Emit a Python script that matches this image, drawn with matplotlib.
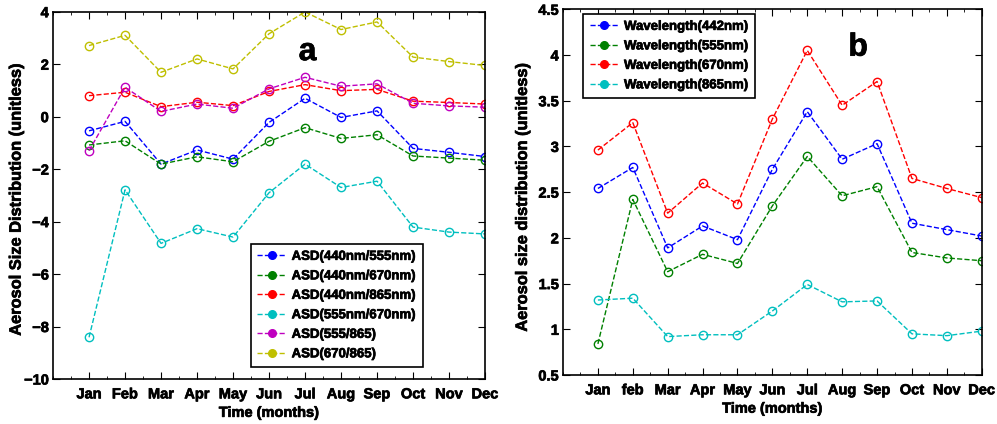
import matplotlib
matplotlib.use("Agg")
import matplotlib.pyplot as plt
import matplotlib.patheffects as pe
from matplotlib.lines import Line2D
from matplotlib.ticker import MultipleLocator

plt.rcParams["font.family"] = ["Liberation Sans", "DejaVu Sans"]
plt.rcParams["font.weight"] = "bold"

months = [1, 2, 3, 4, 5, 6, 7, 8, 9, 10, 11, 12]
labels_a = ["Jan", "Feb", "Mar", "Apr", "May", "Jun", "Jul", "Aug", "Sep", "Oct", "Nov", "Dec"]
labels_b = ["Jan", "feb", "Mar", "Apr", "May", "Jun", "Jul", "Aug", "Sep", "Oct", "Nov", "Dec"]

# panel a: size distribution per wavelength pair
asd_440_555 = [-0.54, -0.18, -1.81, -1.27, -1.62, -0.22, 0.70, -0.03, 0.22, -1.21, -1.36, -1.52]
asd_440_670 = [-1.08, -0.92, -1.81, -1.53, -1.72, -0.94, -0.42, -0.83, -0.69, -1.50, -1.58, -1.66]
asd_440_865 = [0.80, 0.93, 0.38, 0.55, 0.42, 0.96, 1.22, 0.99, 1.04, 0.59, 0.54, 0.48]
asd_555_670 = [-8.41, -2.79, -4.83, -4.27, -4.59, -2.90, -1.81, -2.70, -2.46, -4.21, -4.40, -4.47]
asd_555_865 = [-1.30, 1.12, 0.20, 0.48, 0.32, 1.06, 1.50, 1.16, 1.25, 0.51, 0.41, 0.36]
asd_670_865 = [2.71, 3.10, 1.69, 2.20, 1.82, 3.16, 3.99, 3.32, 3.61, 2.27, 2.10, 1.95]

# panel b: per wavelength
wl_442 = [2.54, 2.77, 1.89, 2.13, 1.98, 2.75, 3.38, 2.86, 3.03, 2.16, 2.09, 2.02]
wl_555 = [0.84, 2.42, 1.63, 1.82, 1.72, 2.35, 2.89, 2.46, 2.56, 1.84, 1.78, 1.75]
wl_670 = [2.96, 3.26, 2.27, 2.60, 2.37, 3.30, 4.05, 3.45, 3.71, 2.65, 2.54, 2.44]
wl_865 = [1.32, 1.34, 0.92, 0.94, 0.94, 1.20, 1.49, 1.30, 1.31, 0.95, 0.93, 0.98]

BLUE, GREEN, RED = "#0000ff", "#008000", "#ff0000"
CYAN, MAGENTA, YELLOW = "#00bfbf", "#bf00bf", "#bfbf00"

series_a = [
    ("ASD(440nm/555nm)", asd_440_555, BLUE),
    ("ASD(440nm/670nm)", asd_440_670, GREEN),
    ("ASD(440nm/865nm)", asd_440_865, RED),
    ("ASD(555nm/670nm)", asd_555_670, CYAN),
    ("ASD(555/865)", asd_555_865, MAGENTA),
    ("ASD(670/865)", asd_670_865, YELLOW),
]
series_b = [
    ("Wavelength(442nm)", wl_442, BLUE),
    ("Wavelength(555nm)", wl_555, GREEN),
    ("Wavelength(670nm)", wl_670, RED),
    ("Wavelength(865nm)", wl_865, CYAN),
]

# slightly heavier text, like the MATLAB bold rendering
HEAVY = [pe.withStroke(linewidth=0.5, foreground="black")]


def draw(ax, series, ticklabels):
    handles = []
    for name, vals, col in series:
        ax.plot(months, vals, "--o", color=col, lw=1, ms=6, mfc="none", mew=1)
        handles.append(Line2D([], [], ls="--", marker="o", color=col, lw=1,
                              ms=5.5, mfc=col, label=name))
    ax.set_xlim(0, 12)
    ax.set_xticks(months)
    ax.set_xticklabels(ticklabels)
    ax.xaxis.set_minor_locator(MultipleLocator(0.5))
    ax.tick_params(which="both", direction="in", top=True, right=True, labelsize=10.5)
    ax.tick_params(which="major", length=5)
    ax.tick_params(which="minor", length=2.5)
    ax.tick_params(axis="x", pad=6)
    ax.tick_params(axis="y", pad=3)
    for t in ax.get_xticklabels() + ax.get_yticklabels():
        t.set_path_effects(HEAVY)
    for sp in ax.spines.values():
        sp.set_linewidth(1.2)
    ax.set_xlabel("Time (months)", fontsize=10.5, fontweight="bold", path_effects=HEAVY)
    ax.xaxis.set_label_coords(0.5, -0.073)
    return handles


def add_legend(ax, handles, loc, anchor):
    leg = ax.legend(handles=handles, loc=loc, bbox_to_anchor=anchor, fontsize=9.5,
                    frameon=True, fancybox=False, edgecolor="black", framealpha=1,
                    handlelength=2.2, labelspacing=0.55, borderpad=0.5,
                    handletextpad=0.4, borderaxespad=0)
    leg.get_frame().set_linewidth(1.2)
    for t in leg.get_texts():
        t.set_path_effects(HEAVY)


fig = plt.figure(figsize=(9.97, 4.24), dpi=100)

ax1 = fig.add_axes([0.0532, 0.1061, 0.4333, 0.8663])
h1 = draw(ax1, series_a, labels_a)
ax1.set_ylim(-10, 4)
ax1.set_yticks([-10, -8, -6, -4, -2, 0, 2, 4])
ax1.set_ylabel("Aerosol Size Distribution (unitless)", fontsize=11.8, fontweight="bold",
               path_effects=HEAVY)
ax1.yaxis.set_label_coords(-0.068, 0.487)
ax1.text(7.07, 2.46, "a", fontsize=23, fontweight="bold", ha="center", va="center",
         path_effects=HEAVY)
add_legend(ax1, h1, "lower right", (0.856, 0.033))

ax2 = fig.add_axes([0.5647, 0.1156, 0.42, 0.8625])
h2 = draw(ax2, series_b, labels_b)
ax2.set_ylim(0.5, 4.5)
ax2.set_yticks([0.5, 1, 1.5, 2, 2.5, 3, 3.5, 4, 4.5])
ax2.set_yticklabels(["0.5", "1", "1.5", "2", "2.5", "3", "3.5", "4", "4.5"])
ax2.set_ylabel("Aerosol size distribution (unitless)", fontsize=11.8, fontweight="bold",
               path_effects=HEAVY)
ax2.yaxis.set_label_coords(-0.079, 0.484)
ax2.text(8.46, 4.08, "b", fontsize=23, fontweight="bold", ha="center", va="center",
         path_effects=HEAVY)
add_legend(ax2, h2, "upper left", (0.048, 0.987))

fig.savefig("out.png", dpi=100)
